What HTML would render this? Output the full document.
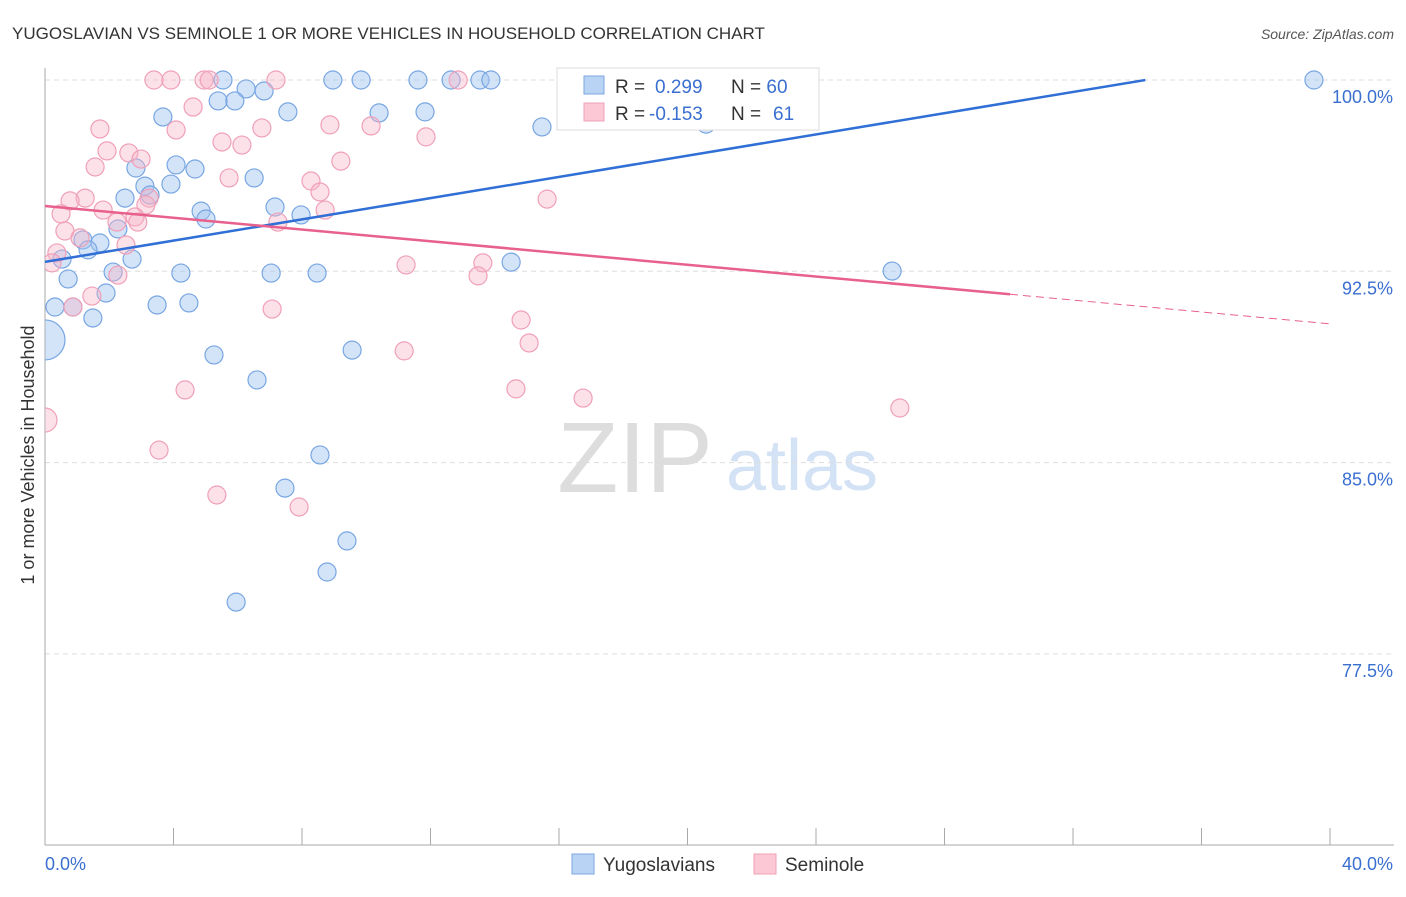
<!DOCTYPE html>
<html><head><meta charset="utf-8"><style>
body{margin:0;background:#fff;font-family:"Liberation Sans",sans-serif}
svg text{font-family:"Liberation Sans",sans-serif}
</style></head><body>
<svg id="c" width="1406" height="892">
<defs><clipPath id="plot"><rect x="45" y="60" width="1361" height="786"/></clipPath></defs>
<text x="12" y="39" font-size="17" fill="#333">YUGOSLAVIAN VS SEMINOLE 1 OR MORE VEHICLES IN HOUSEHOLD CORRELATION CHART</text>
<text x="1394" y="39" font-size="14" fill="#555" font-style="italic" text-anchor="end">Source: ZipAtlas.com</text>
<text x="635" y="492" font-size="100" fill="#ddd" font-family="Liberation Serif" text-anchor="middle">ZIP</text>
<text x="802" y="490" font-size="72" fill="#d3e2f5" text-anchor="middle">atlas</text>
<g id="grid"></g><g id="pts" clip-path="url(#plot)"></g><g id="lines"></g>
<text transform="translate(34,455) rotate(-90)" font-size="18" fill="#333" text-anchor="middle">1 or more Vehicles in Household</text>
<g>
<rect x="557" y="68" width="262" height="62" fill="#fff" stroke="#ddd"/>
<rect x="584" y="76" width="20" height="18" fill="#b9d3f5" stroke="#7aa7e0"/>
<rect x="584" y="103" width="20" height="18" fill="#fcc8d6" stroke="#f0a0b8"/>
<text x="615" y="93" font-size="19" fill="#333">R = <tspan fill="#3a6fd0" x="655">0.299</tspan><tspan x="731" fill="#333">N = </tspan><tspan fill="#3a6fd0">60</tspan></text>
<text x="615" y="120" font-size="19" fill="#333">R = <tspan fill="#3a6fd0" x="649">-0.153</tspan><tspan x="731" fill="#333">N = </tspan><tspan fill="#3a6fd0" x="773">61</tspan></text>
</g>
<g>
<rect x="572" y="854" width="22" height="20" fill="#b9d3f5" stroke="#7aa7e0"/>
<text x="603" y="871" font-size="19" fill="#333">Yugoslavians</text>
<rect x="754" y="854" width="22" height="20" fill="#fcc8d6" stroke="#f0a0b8"/>
<text x="785" y="871" font-size="19" fill="#333">Seminole</text>
</g>
</svg>
<script>
const xTicks=[0,4,8,12,16,20,24,28,32,36,40];
const yTicks=[100,92.5,85,77.5];
const yTickLabels=["100.0%","92.5%","85.0%","77.5%"];
const blueX=[5.54,8.96,9.84,11.61,12.64,13.54,13.88,23.35,39.5,6.26,6.82,5.39,5.91,7.56,10.4,11.83,3.67,15.47,20.58,4.08,4.67,2.83,6.51,3.92,3.11,2.49,3.27,7.16,7.97,4.86,5.01,2.27,1.18,1.71,1.34,0.53,2.71,2.12,4.23,7.04,8.47,14.51,26.37,0.72,1.9,0.31,0.87,3.49,4.48,1.49,0,5.26,9.56,6.6,8.56,7.47,9.4,8.78,5.95];
const blueY=[100,100,100,100,100,100,100,100,100,99.65,99.57,99.18,99.18,98.75,98.71,98.75,98.55,98.16,98.27,96.67,96.51,96.55,96.16,95.92,95.84,95.37,95.49,95.02,94.71,94.86,94.55,94.16,93.73,93.61,93.34,92.98,92.98,92.47,92.43,92.43,92.43,92.86,92.51,92.2,91.65,91.1,91.1,91.18,91.26,90.67,89.81,89.22,89.41,88.24,85.3,84.0,81.93,80.71,79.53];
const blueR=[9,9,9,9,9,9,9,9,9,9,9,9,9,9,9,9,9,9,9,9,9,9,9,9,9,9,9,9,9,9,9,9,9,9,9,9,9,9,9,9,9,9,9,9,9,9,9,9,9,9,20,9,9,9,9,9,9,9,9];
const pinkX=[3.39,3.92,4.95,5.11,7.19,12.86,19.98,4.61,1.71,4.08,8.87,10.15,11.86,5.51,6.13,6.75,1.93,2.61,2.99,9.21,1.56,5.73,8.28,8.56,15.63,1.25,0.78,0.5,1.81,3.24,3.14,2.8,2.89,2.24,7.25,8.72,0.62,1.09,2.52,0.37,0.22,11.24,13.63,13.48,2.27,1.46,0.87,7.07,14.82,15.07,11.18,4.36,14.66,16.75,26.61,0,3.55,5.35,7.91];
const pinkY=[100,100,100,100,100,100,100,98.94,98.08,98.04,98.24,98.2,97.77,97.57,97.45,98.12,97.22,97.14,96.9,96.82,96.59,96.16,96.04,95.61,95.33,95.37,95.26,94.75,94.9,95.37,95.1,94.63,94.43,94.43,94.43,94.9,94.08,93.81,93.53,93.22,92.83,92.75,92.83,92.32,92.35,91.53,91.1,91.02,90.59,89.69,89.38,87.85,87.89,87.53,87.14,86.67,85.49,83.73,83.26];
const blueTrend=[0,92.87,34.25,100];
const pinkTrend=[0,95.06,30.04,91.6,40,90.44];
const X=v=>45+v/40*1285, Y=v=>80+(100-v)/7.5*191.3;
const ns="http://www.w3.org/2000/svg";
function mk(p,t,a){const e=document.createElementNS(ns,t);for(const k in a)e.setAttribute(k,a[k]);p.appendChild(e);return e;}
const g=document.getElementById('grid');
yTicks.forEach((t,i)=>{
 const l=mk(g,'line',{x1:45,x2:1394,y1:Y(t),y2:Y(t),stroke:'#ddd','stroke-dasharray':'5,4'});
 
 
 const tx=mk(g,'text',{x:1393,y:Y(t)+23,'font-size':18,fill:'#3a6fd0','text-anchor':'end'});tx.textContent=yTickLabels[i];
 
 
});
mk(g,'line',{x1:45,x2:45,y1:68,y2:845,stroke:'#aaa'});
mk(g,'line',{x1:45,x2:1394,y1:845,y2:845,stroke:'#aaa'});
xTicks.forEach(t=>{const l=mk(g,'line',{x1:X(t),x2:X(t),y1:828,y2:845,stroke:'#aaa'});
 
 });
let a=mk(g,'text',{x:45,y:870,'font-size':18,fill:'#3a6fd0'});a.textContent='0.0%';


a=mk(g,'text',{x:1393,y:870,'font-size':18,fill:'#3a6fd0','text-anchor':'end'});a.textContent='40.0%';


const p=document.getElementById('pts');
blueX.forEach((v,i)=>{const c=mk(p,'circle',{cx:X(v),cy:Y(blueY[i]),r:blueR[i],fill:'rgba(160,195,240,0.45)',stroke:'#78a6e2','stroke-width':1.2});
 
 });
pinkX.forEach((v,i)=>{const c=mk(p,'circle',{cx:X(v),cy:Y(pinkY[i]),r:i==55?12:9,fill:'rgba(248,180,200,0.4)',stroke:'#f0a0b8','stroke-width':1.2});
 
 });
const L=document.getElementById('lines');
let t=mk(L,'line',{x1:X(blueTrend[0]),y1:Y(blueTrend[1]),x2:X(blueTrend[2]),y2:Y(blueTrend[3]),stroke:'#2f6fd6','stroke-width':2.5});


t=mk(L,'line',{x1:X(pinkTrend[0]),y1:Y(pinkTrend[1]),x2:X(pinkTrend[2]),y2:Y(pinkTrend[3]),stroke:'#e8608c','stroke-width':2.5});


t=mk(L,'line',{x1:X(pinkTrend[2]),y1:Y(pinkTrend[3]),x2:X(pinkTrend[4]),y2:Y(pinkTrend[5]),stroke:'#e8608c','stroke-width':1,'stroke-dasharray':'8,5'});


</script>
</body></html>
